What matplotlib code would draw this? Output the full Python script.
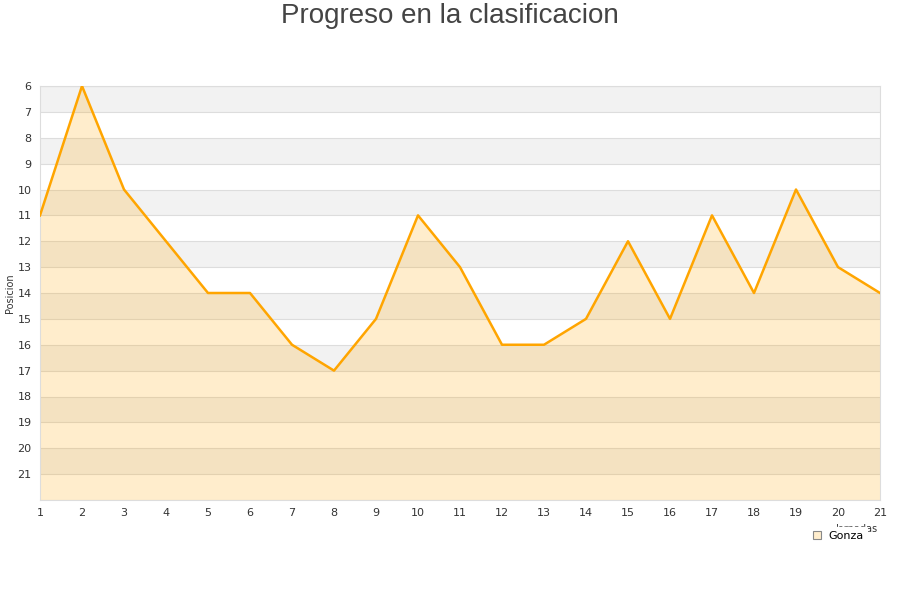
import matplotlib.pyplot as plt

# jornadas y posiciones
jornadas = list(range(1, 22))
posiciones = [11, 6, 10, 12, 14, 14, 16, 17, 15, 11, 13, 16, 16, 15, 12, 15, 11, 14, 10, 13, 14]
yticks = list(range(6, 22))

fig = plt.figure(figsize=(9, 6), dpi=100)
ax = fig.add_axes([40/900, 100/600, 840/900, 414/600])

# bandas alternas de fondo
for y in range(6, 22, 2):
    ax.axhspan(y, y + 1, color='#f2f2f2', zorder=0, lw=0)
for y in range(6, 23):
    ax.axhline(y, color='#dddddd', lw=0.8, zorder=1)

ax.fill_between(jornadas, posiciones, 22, color='#ffa500', alpha=0.2, lw=0, zorder=2)
ax.plot(jornadas, posiciones, color='#ffa500', lw=1.8, zorder=3)

ax.set_xlim(1, 21)
ax.set_ylim(22, 6)
ax.set_xticks(jornadas)
ax.set_yticks(yticks)
ax.tick_params(length=0, labelsize=8, colors='#333333', pad=6)
for s in ax.spines.values():
    s.set_color('#dddddd')

fig.text(0.5, 1 - 16/600, 'Progreso en la clasificacion', ha='center', va='center',
         fontsize=20, color='#444444', family='Liberation Sans')
fig.text(10/900, 1 - 293/600, 'Posicion', rotation=90, ha='center', va='center',
         fontsize=7, color='#333333')
# etiqueta del eje x, casi tapada por la leyenda como en el original
fig.text(878/900, 1 - 529/600, 'Jornadas', ha='right', va='center', fontsize=7,
         color='#333333', zorder=1)

leg = fig.legend(handles=[plt.Rectangle((0, 0), 1, 1, facecolor='#ffedcc', edgecolor='#888888', lw=0.8)],
                 labels=['Gonza'], loc='center', bbox_to_anchor=(838/900, 1 - 536/600),
                 frameon=True, facecolor='white', edgecolor='white', framealpha=1,
                 fontsize=8, handlelength=0.8, handleheight=0.8, handletextpad=0.6,
                 borderpad=0.35)
leg.set_zorder(10)

fig.savefig('out.png', dpi=100)
